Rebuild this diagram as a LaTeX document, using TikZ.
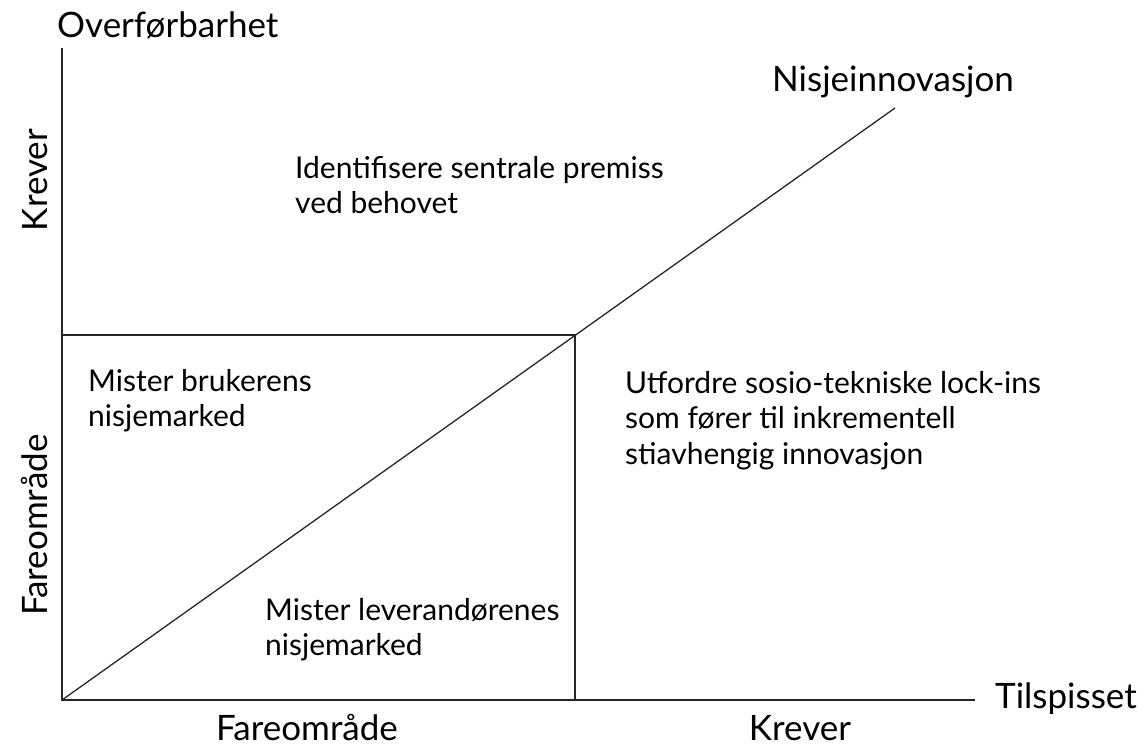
\documentclass[tikz,border=0pt]{standalone}
\usepackage{fontspec}
\setmainfont{Lato}
\begin{document}
\begin{tikzpicture}[x=1pt,y=-1pt,
  ln/.style={line width=1.3pt, black!85},
  big/.style={font=\fontsize{35}{40}\selectfont, inner sep=0pt},
  body/.style={font=\fontsize{30}{35.5}\selectfont, inner sep=0pt, align=left}]
\useasboundingbox (0,0) rectangle (1145,749);
\coordinate (O) at (62,700);
\coordinate (ytop) at (62,48);
\coordinate (xend) at (975,700);
\coordinate (bx) at (575,335);
\coordinate (dend) at (895,108);
\draw[ln] (ytop) -- (O) -- (xend);
\draw[ln] (O |- bx) -- (bx) -- (bx |- O);
\draw[ln] (O) -- (dend);
\node[big, anchor=base west] (ylab) at (57,38) {Overførbarhet};
\node[big, anchor=base west] (nis) at (772,92) {Nisjeinnovasjon};
\node[big, anchor=base west] (til) at (995,708) {Tilspisset};
\node[big, anchor=base] (fx) at (307,740) {Fareområde};
\node[big, anchor=base] (kx) at (800,740) {Krever};
\node[big, rotate=90, anchor=base] (ky) at (47,180) {Krever};
\node[big, rotate=90, anchor=base] (fy) at (47,525) {Fareområde};
\node[body, anchor=base west] (t1) at (295,213.5) {Identifisere sentrale premiss\\ved behovet};
\node[body, anchor=base west] (t2) at (88,426.5) {Mister brukerens\\nisjemarked};
\node[body, anchor=base west] (t3) at (625,464) {Utfordre sosio-tekniske lock-ins\\som fører til inkrementell\\stiavhengig innovasjon};
\node[body, anchor=base west] (t4) at (265,655.5) {Mister leverandørenes\\nisjemarked};
\end{tikzpicture}
\end{document}
